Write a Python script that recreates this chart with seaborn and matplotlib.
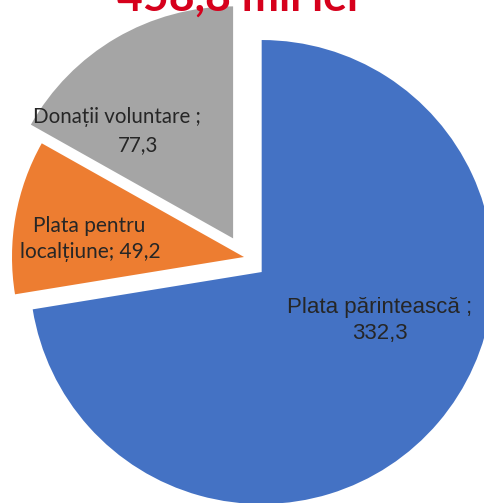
import matplotlib
matplotlib.use("Agg")
import matplotlib.pyplot as plt
import seaborn as sns

# data
categories = ["Plata părintească", "Plata pentru localțiune", "Donații voluntare"]
values = [332.3, 49.2, 77.3]
colors = ["#4472C4", "#ED7D31", "#A5A5A5"]
explode = [0.10, 0.0, 0.093]
total_label = "458,8 mil lei"

sns.set_theme(style="white")

fig = plt.figure(figsize=(4.84, 5.03), dpi=100)
ax = fig.add_axes([0, 0, 1, 1])

ax.pie(values, colors=colors, explode=explode, startangle=90,
       counterclock=False, radius=1,
       wedgeprops=dict(linewidth=0))

# pie centre sits at pixel (244, 257), radius 232 px
scale = 232
ax.set_xlim(-244 / scale, (484 - 244) / scale)
ax.set_ylim(-(503 - 257) / scale, 257 / scale)
ax.set_aspect("auto")
ax.axis("off")

txt = "#262626"
calibri_like = ["Lato", "DejaVu Sans"]
arial_like = ["Liberation Sans", "DejaVu Sans"]


def fmt(v):
    return f"{v:.1f}".replace(".", ",")


def put(px, py, s, fam, size):
    ax.text(px / 484, 1 - py / 503, s, transform=ax.transAxes,
            ha="center", va="center", color=txt, fontsize=size, family=fam)


put(117, 117, "Donații voluntare ;", calibri_like, 14.8)
put(138, 145, fmt(values[2]), calibri_like, 14.8)
put(89, 226, "Plata pentru", calibri_like, 15)
put(90, 252, "localțiune; " + fmt(values[1]), calibri_like, 15)
put(380, 308, "Plata părintească ;", arial_like, 16)
put(380, 333, fmt(values[0]), arial_like, 16)

# title, mostly cut off by the top edge as in the source image
fig.text(0.49, 1 - 11 / 503, total_label, ha="center", va="baseline",
         color="#D6001C", fontsize=32, fontweight="bold", family=calibri_like)

fig.savefig("out.png", dpi=100)
